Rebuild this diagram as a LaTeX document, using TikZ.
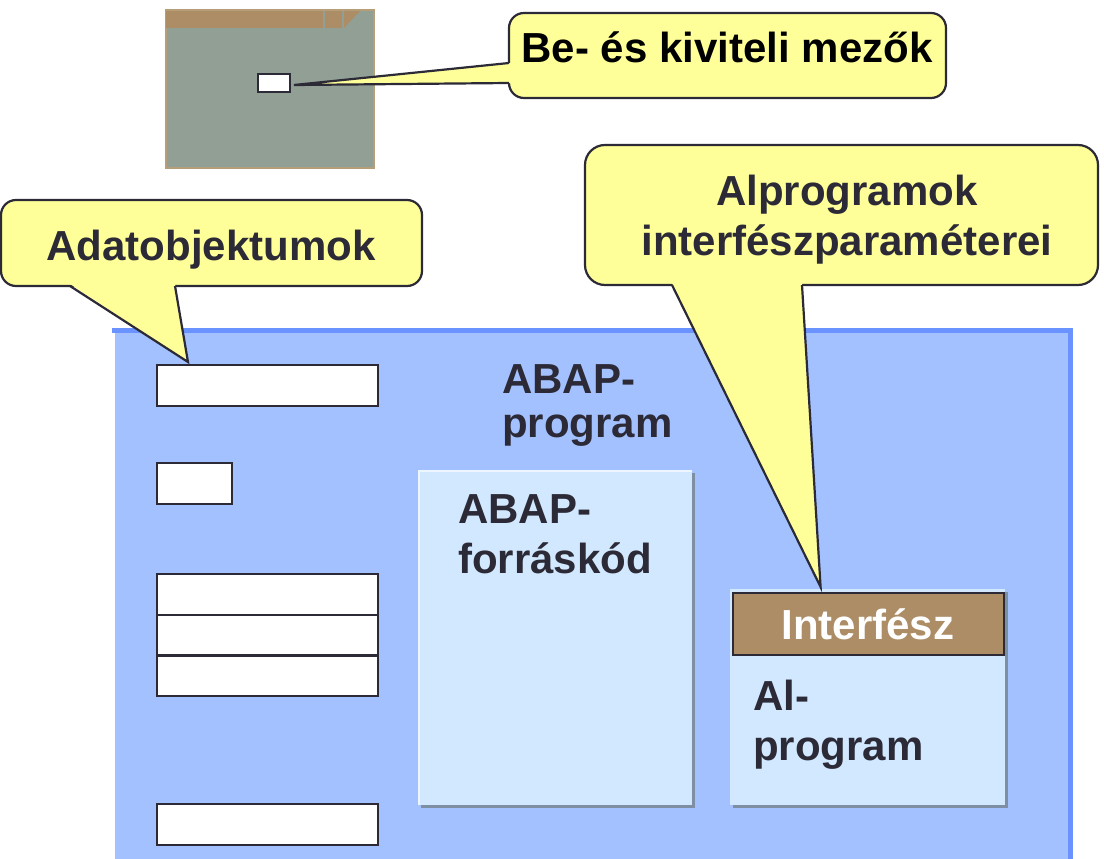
\documentclass[tikz,border=0pt]{standalone}
\usepackage{fontspec}
\setmainfont{Liberation Sans}
\usetikzlibrary{positioning}

\definecolor{calloutyellow}{HTML}{FFFF99}
\definecolor{inkdark}{HTML}{2B2A36}
\definecolor{framefill}{HTML}{A3C1FF}
\definecolor{frameedge}{HTML}{6B93FF}
\definecolor{codefill}{HTML}{D2E8FF}
\definecolor{codeshadow}{HTML}{7F8FA3}
\definecolor{headbrown}{HTML}{AC8D66}
\definecolor{screengrey}{HTML}{919F94}
\definecolor{screenedge}{HTML}{B59E78}

\tikzset{
  bigtext/.style={font=\fontsize{42}{50}\selectfont\bfseries, text=inkdark, inner sep=0pt},
  field/.style={draw=inkdark, fill=white, line width=2.2pt, inner sep=0pt, anchor=north west},
  bubble/.style={draw=inkdark, fill=calloutyellow, line width=2.2pt},
  pointer/.style={draw=inkdark, line width=2.2pt},
}

\begin{document}
\begin{tikzpicture}[x=1pt, y=-1pt]
        \useasboundingbox (0,0) rectangle (1104,859);
        % ==== SCREEN ====
        \draw[screenedge, fill=screengrey, line width=1.5pt] (166,10) rectangle (374,168);
        \fill[headbrown] (166,11) rectangle (323,28);
        \fill[headbrown] (325,11) rectangle (342,28);
        \fill[headbrown] (344,11) -- (360,11) -- (344,28) -- cycle;
        \node[field, line width=2pt, minimum width=32pt, minimum height=18pt] (iofield) at (257,73) {};

        % ==== ABAP PROGRAM FRAME ====
        \fill[framefill] (112,328) rectangle (1073,859);
        \draw[frameedge, line width=5pt] (112,330.5) -- (1070.5,330.5) -- (1070.5,859);
        \draw[white, line width=3pt] (113,333) -- (113,859);
        \node[bigtext, font=\fontsize{42}{44}\selectfont\bfseries, anchor=base west, align=left] (abapprog)
            at (502,437) {ABAP-\\program};

        % data objects
        \node[field, minimum width=221pt, minimum height=41pt] (obj1) at (156,364) {};
        \node[field, minimum width=75pt, minimum height=41pt] (obj2) at (156,462) {};
        \foreach \i in {0,1,2}
            \node[field, minimum width=221pt, minimum height=40.7pt] (obj3\i) at (156,{573+40.7*\i}) {};
        \node[field, minimum width=221pt, minimum height=41pt] (obj4) at (156,803) {};

        % ==== SOURCE CODE ====
        \fill[codeshadow] (421,473) rectangle (695,808);
        \fill[codefill] (418,470) rectangle (692,805);
        \draw[white!60!codefill, line width=2pt] (419,805) -- (419,471) -- (692,471);
        \node[bigtext, anchor=base west, align=left] (source) at (458,573) {ABAP-\\forráskód};

        % ==== SUBPROGRAM ====
        \fill[codeshadow] (733,592) rectangle (1008,808);
        \fill[codefill] (730,589) rectangle (1005,805);
        \node[draw=inkdark, fill=headbrown, line width=2.2pt, minimum width=271pt, minimum height=62pt,
            anchor=north west, inner sep=0pt] (iface) at (732,592) {};
        \node[bigtext, text=white, anchor=base] (ifacelbl) at (868,639) {Interfész};
        \node[bigtext, anchor=base west, align=left] (subprog) at (753,760) {Al-\\program};

        % ==== CALLOUTS ====
        \coordinate (tipA) at ([xshift=32pt, yshift=2pt]obj1.north west);
        \draw[bubble, rounded corners=15pt] (1,200) rectangle (422,286);
        \fill[calloutyellow] (175,284) -- (tipA) -- (70,284) -- cycle;
        \draw[pointer] (175,286) -- (tipA) -- (70,286);
        \node[bigtext, anchor=base] (adatlbl) at (211,260) {Adatobjektumok};

        \coordinate (tipB) at ([xshift=3pt, yshift=-2pt]iofield.east);
        \draw[bubble, rounded corners=15pt] (509,13) rectangle (946,98);
        \fill[calloutyellow] (511,83) -- (tipB) -- (511,63) -- cycle;
        \draw[pointer] (509,83) -- (tipB) -- (509,63);
        \node[bigtext, text=black, anchor=base] (iolbl) at (727,63) {Be- és kiviteli mezők};

        \coordinate (tipC) at ([xshift=-48pt, yshift=5pt]iface.north);
        \draw[bubble, rounded corners=20pt] (585,145) rectangle (1098,285);
        \fill[calloutyellow] (802,283) -- (tipC) -- (672,283) -- cycle;
        \draw[pointer] (802,285) -- (tipC) -- (672,285);
        \node[bigtext, align=center, anchor=base] (paramlbl) at (847,255) {Alprogramok\\interfészparaméterei};
\end{tikzpicture}
\end{document}
